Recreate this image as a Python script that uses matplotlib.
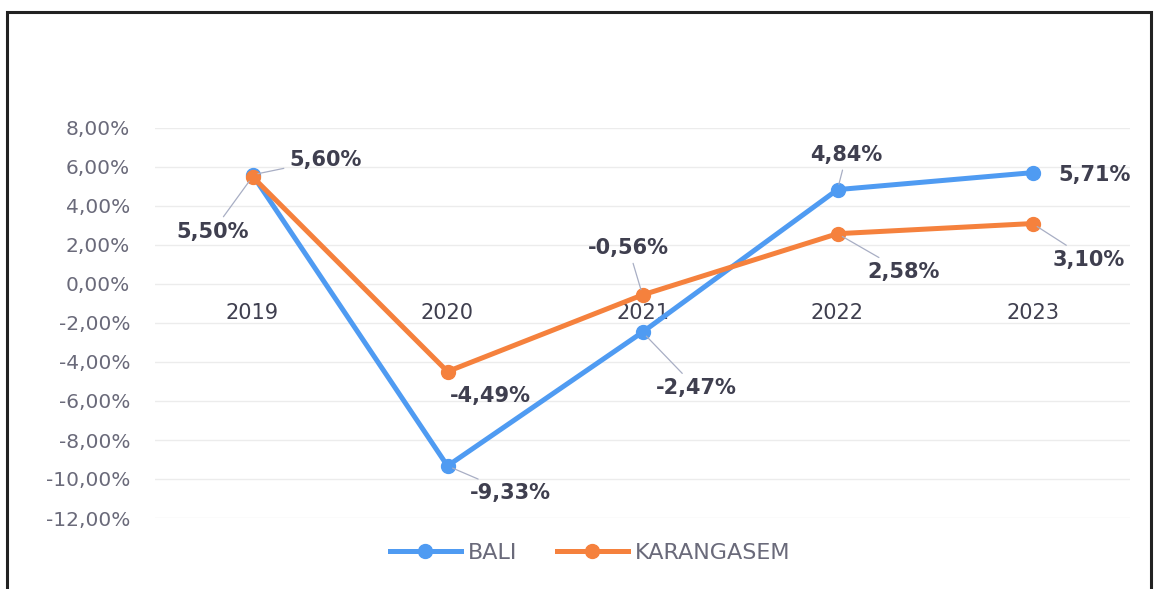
import matplotlib
matplotlib.use("Agg")
import matplotlib.pyplot as plt
from matplotlib.patches import Rectangle

# data
years = ["2019", "2020", "2021", "2022", "2023"]
bali = [5.60, -9.33, -2.47, 4.84, 5.71]
karangasem = [5.50, -4.49, -0.56, 2.58, 3.10]

# label offsets in pixels (dx, dy) and whether a leader line is drawn
bali_off = [(73, 15, True), (63, -27, True), (54, -56, True), (9, 35, True), (62, -2, False)]
kar_off = [(-40, -55, True), (43, -24, False), (-14, 47, True), (66, -38, True), (56, -36, True)]

blue = "#4F9BF2"
orange = "#F5813D"
txt = "#3F3F4F"
tick_col = "#6A6A7A"

fig = plt.figure(figsize=(11.58, 5.89), dpi=100)
ax = fig.add_axes([155 / 1158, 1 - 518 / 589, (1130 - 155) / 1158, (518 - 128) / 589])

x = list(range(len(years)))
ax.plot(x, bali, color=blue, lw=3.6, marker="o", ms=10, label="BALI", zorder=3)
ax.plot(x, karangasem, color=orange, lw=3.6, marker="o", ms=10, label="KARANGASEM", zorder=3)

ax.set_xlim(-0.5, 4.5)
ax.set_ylim(-12, 8)
for s in ["top", "right", "left", "bottom"]:
    ax.spines[s].set_visible(False)
ax.spines["bottom"].set_position(("data", 0))

yt = list(range(-12, 9, 2))
ax.set_yticks(yt)
ax.set_yticklabels([f"{v:.2f}%".replace(".", ",") for v in yt])
ax.grid(axis="y", color="#ECECEC", lw=1)
ax.set_axisbelow(True)

ax.set_xticks(x)
ax.set_xticklabels(years)
ax.tick_params(axis="both", length=0)
ax.tick_params(axis="x", pad=14, labelsize=15, labelcolor=txt)
ax.tick_params(axis="y", pad=18, labelsize=14.5, labelcolor=tick_col)


def fmt(v):
    return f"{v:.2f}%".replace(".", ",")


def add_labels(vals, offs):
    for i, (v, (dx, dy, lead)) in enumerate(zip(vals, offs)):
        props = dict(arrowstyle="-", color="#A8AEC4", lw=0.9, shrinkA=2, shrinkB=4) if lead else None
        ax.annotate(fmt(v), xy=(i, v), xytext=(dx, dy), textcoords="offset pixels",
                    ha="center", va="center", fontsize=15, fontweight="bold", color=txt,
                    arrowprops=props, zorder=4)


add_labels(bali, bali_off)
add_labels(karangasem, kar_off)

leg = ax.legend(loc="center", bbox_to_anchor=(590 / 1158, 1 - 553 / 589), bbox_transform=fig.transFigure,
                ncol=2, frameon=False, fontsize=16, handlelength=3.2, columnspacing=1.8,
                handletextpad=0.3)
for t in leg.get_texts():
    t.set_color(tick_col)

fig.patches.append(Rectangle((7 / 1158, -0.02), (1151 - 7) / 1158, 1.02 - 12 / 589,
                             transform=fig.transFigure, fill=False, ec="#222222", lw=2.2))

fig.savefig("out.png", dpi=100)
